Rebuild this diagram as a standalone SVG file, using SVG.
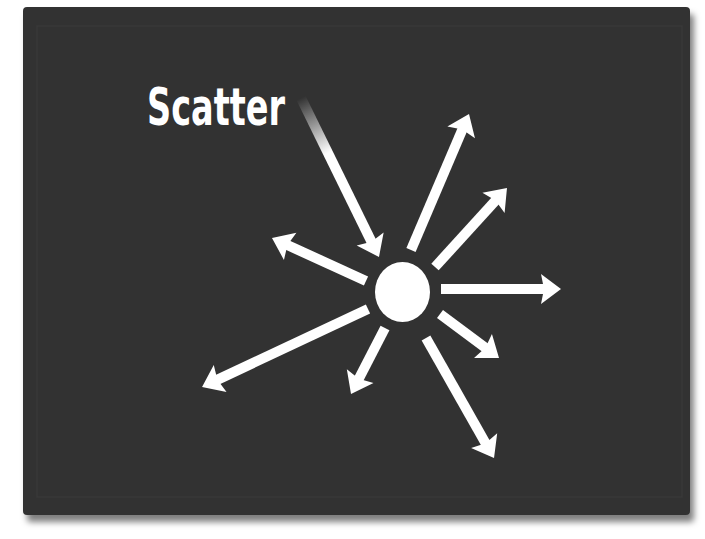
<svg xmlns="http://www.w3.org/2000/svg" width="705" height="539" viewBox="0 0 705 539">
  <style>
    .arrow { stroke: #ffffff; stroke-width: 10; fill: none; stroke-linecap: butt; }
    .label { font-family: "Liberation Sans Narrow", "DejaVu Sans Condensed", "Liberation Sans", sans-serif; font-weight: bold; fill: #ffffff; }
  </style>
  <defs>
    <filter id="shadow" x="-5%" y="-5%" width="115%" height="115%">
      <feDropShadow dx="4" dy="7" stdDeviation="3" flood-color="#000000" flood-opacity="0.5"/>
    </filter>
    <marker id="head" markerUnits="userSpaceOnUse" markerWidth="30" markerHeight="34" viewBox="-2 -17 24 34" refX="8" refY="0" orient="auto">
      <path d="M0,-15 L20,0 L0,15 L3,0 Z" fill="#ffffff"/>
    </marker>
    <linearGradient id="fade" gradientUnits="userSpaceOnUse" x1="301" y1="98" x2="328" y2="153">
      <stop offset="0" stop-color="#ffffff" stop-opacity="0"/>
      <stop offset="1" stop-color="#ffffff" stop-opacity="1"/>
    </linearGradient>
  </defs>

  <rect x="0" y="0" width="705" height="539" fill="#ffffff"/>
  <g id="panel">
    <rect x="23" y="7" width="667" height="508" rx="4" fill="#333333" filter="url(#shadow)"/>
    <rect x="37" y="26" width="645" height="471" fill="none" stroke="#393939" stroke-width="1.5"/>
  </g>

  <g id="connectors">
    <line class="arrow" x1="301" y1="98" x2="373.7" y2="246.2" style="stroke:url(#fade)" marker-end="url(#head)"/>
    <line class="arrow" x1="411" y1="250" x2="464.3" y2="125" marker-end="url(#head)"/>
    <line class="arrow" x1="435" y1="267" x2="498.9" y2="196.9" marker-end="url(#head)"/>
    <line class="arrow" x1="441" y1="289" x2="549" y2="289" marker-end="url(#head)"/>
    <line class="arrow" x1="440" y1="314" x2="489.4" y2="350.8" marker-end="url(#head)"/>
    <line class="arrow" x1="426" y1="338" x2="488.1" y2="447.6" marker-end="url(#head)"/>
    <line class="arrow" x1="385" y1="328" x2="356.5" y2="383.3" marker-end="url(#head)"/>
    <line class="arrow" x1="368" y1="309" x2="212.9" y2="381.9" marker-end="url(#head)"/>
    <line class="arrow" x1="366" y1="281" x2="282.9" y2="243" marker-end="url(#head)"/>
  </g>

  <g id="node-center">
    <ellipse cx="402.5" cy="292" rx="27.5" ry="30" fill="#ffffff"/>
  </g>

  <g id="node-label">
    <text class="label" x="147" y="125" font-size="51" textLength="138" lengthAdjust="spacingAndGlyphs">Scatter</text>
  </g>
</svg>
